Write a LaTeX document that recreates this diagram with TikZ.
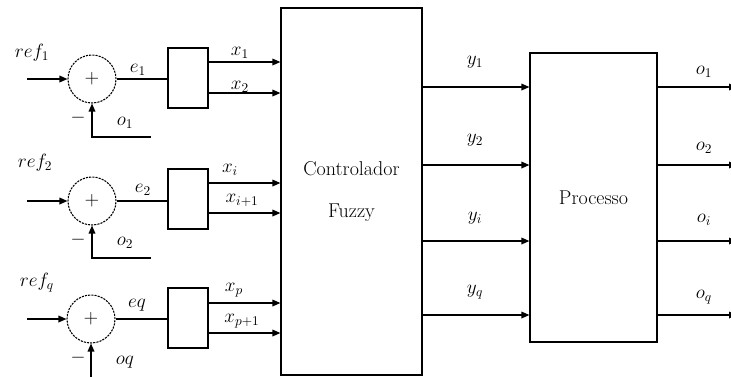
\documentclass[tikz,border=0pt]{standalone}
\usepackage{amsmath}
\usetikzlibrary{arrows.meta, positioning}

\begin{document}
\begin{tikzpicture}[x=0.75pt, y=-0.75pt, >={Triangle[length=6pt, width=5pt]},
  line width=0.9pt, font=\fontsize{14}{16}\selectfont,
  sumnode/.style={circle, draw, dash pattern=on 1.6pt off 0.8pt, line width=0.8pt, minimum size=36pt, inner sep=0pt},
  blk/.style={draw, rectangle, inner sep=0pt},
  lbl/.style={inner sep=1pt}]
  \useasboundingbox (0,0) rectangle (731,376);

  % Summing junctions and pre-processing blocks
  \node[sumnode] (s1) at (92,79)  {$+$};
  \node[sumnode] (s2) at (92,201) {$+$};
  \node[sumnode] (s3) at (91,319) {$+$};
  \node[blk, minimum width=30pt, minimum height=45pt] (b1) at (188,78)  {};
  \node[blk, minimum width=30pt, minimum height=45pt] (b2) at (188,199) {};
  \node[blk, minimum width=30pt, minimum height=45pt] (b3) at (188,318) {};

  % Main blocks
  \node[blk, minimum width=105.75pt, minimum height=275.25pt, align=center,
    font=\fontsize{15}{18}\selectfont] (ctrl) at (351.5,191.5) {Controlador\\[14pt]Fuzzy};
  \node[blk, minimum width=95.25pt, minimum height=216.75pt,
    font=\fontsize{15}{18}\selectfont] (proc) at (593.5,197.5) {Processo};

  % References into the sums
  \coordinate (in1) at (27,79);
  \coordinate (in2) at (27,201);
  \coordinate (in3) at (27,319);
  \draw[->] (in1) -- (s1.west);
  \draw[->] (in2) -- (s2.west);
  \draw[->] (in3) -- (s3.west);

  % Feedback of the outputs
  \coordinate (fb1) at (151,137);
  \coordinate (fb2) at (151,258);
  \coordinate (fb3) at (91,380);
  \draw[->] (fb1) -| (s1.south);
  \draw[->] (fb2) -| (s2.south);
  \draw[->] (fb3) -- (s3.south);

  % Errors into the blocks
  \draw (s1.east) -- (b1.west |- s1.east);
  \draw (s2.east) -- (b2.west |- s2.east);
  \draw (s3.east) -- (b3.west |- s3.east);

  % Inputs of the controller
  \coordinate (c1) at (ctrl.west |- 0,62);
  \coordinate (c2) at (ctrl.west |- 0,93);
  \coordinate (c3) at (ctrl.west |- 0,183);
  \coordinate (c4) at (ctrl.west |- 0,213);
  \coordinate (c5) at (ctrl.west |- 0,303);
  \coordinate (c6) at (ctrl.west |- 0,333);
  \draw[->] (b1.east |- c1) -- (c1);
  \draw[->] (b1.east |- c2) -- (c2);
  \draw[->] (b2.east |- c3) -- (c3);
  \draw[->] (b2.east |- c4) -- (c4);
  \draw[->] (b3.east |- c5) -- (c5);
  \draw[->] (b3.east |- c6) -- (c6);

  % Controller to process
  \coordinate (p1) at (proc.west |- 0,87);
  \coordinate (p2) at (proc.west |- 0,165);
  \coordinate (p3) at (proc.west |- 0,241);
  \coordinate (p4) at (proc.west |- 0,315);
  \draw[->] (ctrl.east |- p1) -- (p1);
  \draw[->] (ctrl.east |- p2) -- (p2);
  \draw[->] (ctrl.east |- p3) -- (p3);
  \draw[->] (ctrl.east |- p4) -- (p4);

  % Process outputs
  \coordinate (out1) at (737,87);
  \coordinate (out2) at (737,165);
  \coordinate (out3) at (737,241);
  \coordinate (out4) at (737,315);
  \draw[->] (proc.east |- out1) -- (out1);
  \draw[->] (proc.east |- out2) -- (out2);
  \draw[->] (proc.east |- out3) -- (out3);
  \draw[->] (proc.east |- out4) -- (out4);

  % Labels
  \node[lbl] (lref1) at (32,53)  {$ref_1$};
  \node[lbl] (lref2) at (35,163) {$ref_2$};
  \node[lbl] (lref3) at (37,283) {$ref_q$};
  \node[lbl] (le1) at (138,70)  {$e_1$};
  \node[lbl] (le2) at (143,190) {$e_2$};
  \node[lbl] (le3) at (137,305) {$eq$};
  \node[lbl] (lm1) at (78,118) {$-$};
  \node[lbl] (lm2) at (78,240) {$-$};
  \node[lbl] (lm3) at (78,358) {$-$};
  \node[lbl] (lfb1) at (125,123) {$o_1$};
  \node[lbl] (lfb2) at (125,243) {$o_2$};
  \node[lbl] (lfb3) at (125,362) {$oq$};
  \node[lbl] (lx1) at (240,53)  {$x_1$};
  \node[lbl] (lx2) at (240,87)  {$x_2$};
  \node[lbl] (lx3) at (230,170) {$x_i$};
  \node[lbl] (lx4) at (242,200) {$x_{i+1}$};
  \node[lbl] (lx5) at (234,290) {$x_p$};
  \node[lbl] (lx6) at (242,321) {$x_{p+1}$};
  \node[lbl] (ly1) at (475,62)  {$y_1$};
  \node[lbl] (ly2) at (475,140) {$y_2$};
  \node[lbl] (ly3) at (475,218) {$y_i$};
  \node[lbl] (ly4) at (475,292) {$y_q$};
  \node[lbl] (lo1) at (704,72)  {$o_1$};
  \node[lbl] (lo2) at (704,148) {$o_2$};
  \node[lbl] (lo3) at (704,220) {$o_i$};
  \node[lbl] (lo4) at (704,297) {$o_q$};
\end{tikzpicture}
\end{document}
